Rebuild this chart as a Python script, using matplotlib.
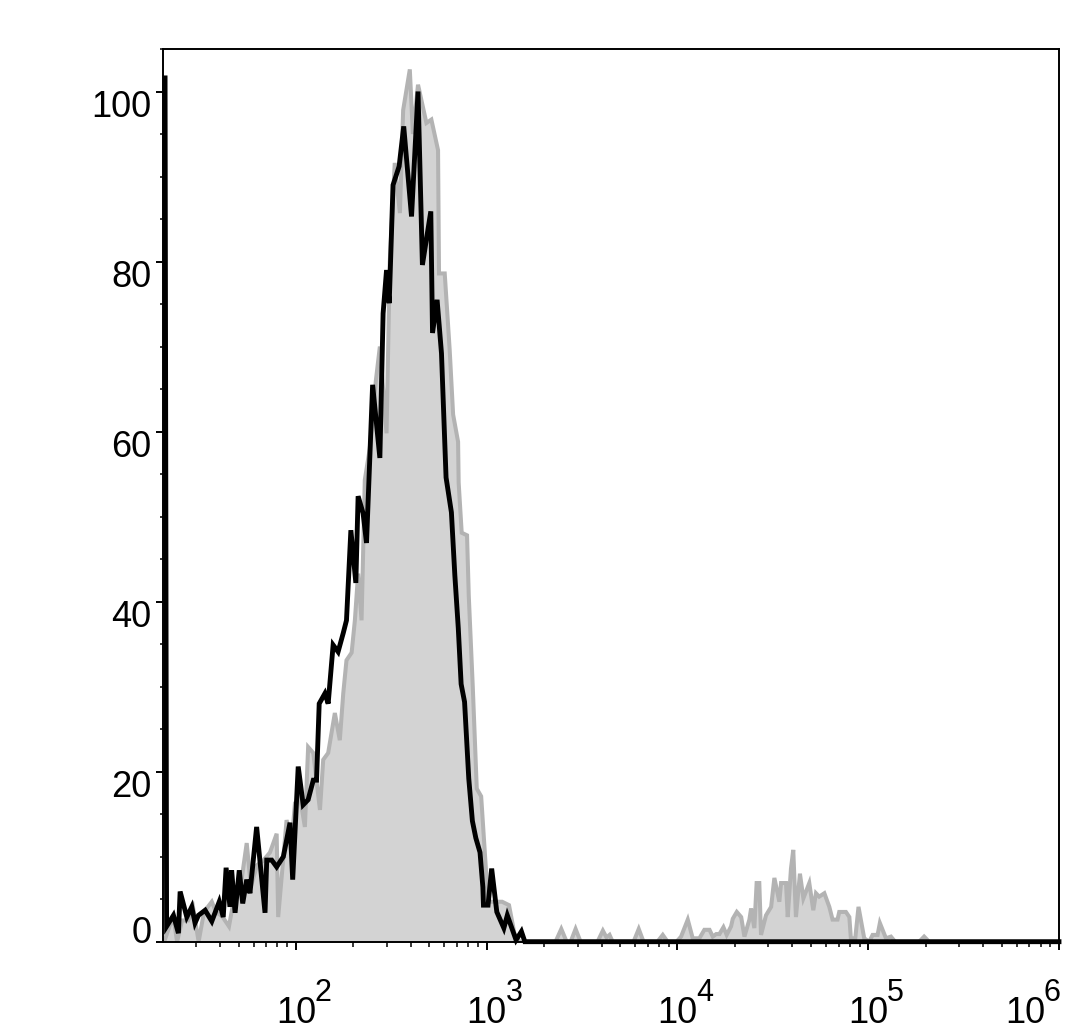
import numpy as np
import matplotlib
matplotlib.use("Agg")
import matplotlib.pyplot as plt
from matplotlib.ticker import LogLocator, MultipleLocator, NullFormatter

plt.rcParams['font.family'] = ['Liberation Sans', 'DejaVu Sans']

# stained sample (black outline), log10 of intensity and % of max
black_log = [1.314, 1.322, 1.358, 1.384, 1.393, 1.428, 1.454, 1.471, 1.489, 1.524,
             1.559, 1.598, 1.619, 1.634, 1.654, 1.663, 1.681, 1.703, 1.721, 1.742,
             1.759, 1.794, 1.838, 1.847, 1.873, 1.899, 1.934, 1.969, 1.983, 2.012,
             2.038, 2.064, 2.091, 2.108, 2.122, 2.152, 2.169, 2.195, 2.221, 2.248,
             2.265, 2.288, 2.314, 2.326, 2.352, 2.370, 2.402, 2.440, 2.457, 2.475,
             2.489, 2.509, 2.541, 2.565, 2.606, 2.640, 2.663, 2.707, 2.716, 2.740,
             2.763, 2.787, 2.815, 2.833, 2.851, 2.866, 2.884, 2.906, 2.925, 2.943,
             2.965, 2.980, 2.983, 3.007, 3.026, 3.053, 3.090, 3.108, 3.154, 3.182,
             3.200, 6.0]
black_pct = [101.6, 1.8, 3.1, 1.0, 5.9, 2.9, 4.1, 2.2, 3.1, 3.7,
             2.4, 4.7, 2.9, 8.7, 4.1, 8.4, 3.4, 8.4, 4.5, 7.3,
             5.7, 13.5, 3.4, 9.6, 9.6, 8.8, 10.0, 14.0, 7.3, 20.6,
             16.1, 16.7, 19.0, 19.0, 28.0, 29.2, 28.0, 34.9, 34.1, 36.3,
             37.8, 48.4, 42.2, 52.4, 50.4, 46.9, 65.5, 56.9, 73.9, 79.0,
             75.1, 89.0, 91.2, 95.9, 85.3, 100.0, 79.6, 85.9, 71.6, 75.5,
             69.2, 54.6, 50.5, 43.1, 36.9, 30.3, 28.2, 19.2, 14.2, 12.2,
             10.5, 6.4, 4.3, 4.3, 8.6, 3.5, 1.6, 3.1, 0.2, 1.2,
             0, 0]

# control (grey filled)
gray_log = [1.314, 1.340, 1.361, 1.377, 1.403, 1.435, 1.461, 1.490, 1.518, 1.559,
            1.581, 1.613, 1.649, 1.675, 1.707, 1.742, 1.764, 1.796, 1.827, 1.864,
            1.899, 1.907, 1.951, 1.979, 1.995, 2.021, 2.047, 2.064, 2.091, 2.126,
            2.143, 2.169, 2.204, 2.230, 2.248, 2.265, 2.292, 2.309, 2.326, 2.344,
            2.361, 2.387, 2.419, 2.440, 2.475, 2.492, 2.518, 2.545, 2.562, 2.597,
            2.613, 2.640, 2.684, 2.710, 2.745, 2.750, 2.780, 2.806, 2.824, 2.850,
            2.853, 2.869, 2.897, 2.906, 2.927, 2.948, 2.971, 3.007, 3.081, 3.117,
            3.145, 3.173, 3.361, 3.391, 3.419, 3.440, 3.466, 3.492, 3.581, 3.609,
            3.628, 3.644, 3.660, 3.770, 3.797, 3.822, 3.895, 3.923, 3.948, 3.995,
            4.019, 4.054, 4.080, 4.115, 4.141, 4.168, 4.185, 4.203, 4.220, 4.241,
            4.258, 4.281, 4.290, 4.311, 4.334, 4.351, 4.377, 4.386, 4.403, 4.415,
            4.429, 4.438, 4.464, 4.491, 4.508, 4.534, 4.543, 4.569, 4.578, 4.595,
            4.607, 4.621, 4.642, 4.660, 4.691, 4.712, 4.726, 4.743, 4.770, 4.796,
            4.813, 4.839, 4.848, 4.883, 4.901, 4.909, 4.932, 4.949, 4.979, 5.005,
            5.023, 5.049, 5.061, 5.093, 5.119, 5.141, 5.267, 5.293, 5.319, 6.0]
gray_pct = [0.3, 2.0, 2.5, 0.0, 2.5, 2.5, 4.0, 0.0, 3.5, 4.7,
            3.5, 3.0, 1.8, 5.0, 6.0, 11.6, 6.5, 9.0, 9.5, 10.5,
            12.7, 2.9, 14.3, 12.0, 16.3, 17.0, 13.5, 22.9, 22.2, 15.5,
            21.4, 22.2, 26.9, 23.7, 29.2, 33.1, 34.0, 37.8, 43.3, 37.8,
            54.3, 58.0, 66.0, 70.0, 59.8, 80.0, 91.6, 85.7, 97.8, 102.6,
            95.0, 100.8, 96.3, 96.7, 93.1, 78.6, 78.6, 69.6, 62.0, 58.8,
            54.0, 48.1, 47.8, 40.7, 30.0, 18.0, 17.1, 4.7, 4.7, 4.3,
            1.0, 0, 0, 1.5, 0, 0, 1.5, 0, 0, 1.3,
            0.5, 0.8, 0, 0, 1.5, 0, 0, 0.8, 0, 0,
            0.6, 2.6, 0.4, 0.4, 1.4, 1.4, 0.6, 0.9, 0.9, 1.7,
            0.8, 1.8, 2.7, 3.5, 2.9, 0.6, 2.6, 3.9, 1.6, 6.9,
            6.9, 0.8, 3.1, 4.1, 7.5, 4.7, 6.9, 6.9, 2.9, 8.6,
            10.8, 2.9, 8.0, 5.1, 6.9, 3.7, 5.7, 5.3, 5.7, 4.1,
            2.6, 2.6, 3.5, 3.5, 2.9, 0.4, 0.4, 4.1, 0.4, 0,
            0.8, 0.8, 2.2, 0.4, 0.6, 0, 0, 0.6, 0, 0]

y_ticks = [0, 20, 40, 60, 80, 100]
x_decades = [2, 3, 4, 5, 6]

px = 0.72  # points per pixel at dpi 100

fig = plt.figure(figsize=(10.84, 10.31), dpi=100)
ax = fig.add_axes([163 / 1084, 1 - 941.7 / 1031, 896 / 1084, (941.7 - 49) / 1031])

gx = 10 ** np.array(gray_log)
bx = 10 ** np.array(black_log)
ax.fill_between(gx, 0, gray_pct, facecolor='#d3d3d3', edgecolor='none', zorder=1)
ax.plot(gx, gray_pct, color='#b3b3b3', lw=2.9, solid_joinstyle='miter', zorder=2)
ax.plot(bx, black_pct, color='black', lw=3.5, solid_joinstyle='miter', zorder=3, clip_on=False)

ax.set_xscale('log')
ax.set_xlim(20.1, 1e6)
ax.set_ylim(0, 105)

ax.xaxis.set_major_locator(LogLocator(base=10, numticks=20))
ax.xaxis.set_minor_locator(LogLocator(base=10, subs=np.arange(2, 10), numticks=20))
ax.xaxis.set_major_formatter(NullFormatter())
ax.xaxis.set_minor_formatter(NullFormatter())
ax.yaxis.set_major_locator(MultipleLocator(20))
ax.yaxis.set_minor_locator(MultipleLocator(5))
ax.yaxis.set_major_formatter(NullFormatter())

ax.tick_params(axis='x', which='major', direction='out', length=6, width=1.4)
ax.tick_params(axis='x', which='minor', direction='out', length=3.6, width=1.1)
ax.tick_params(axis='y', which='major', direction='out', length=5, width=1.4)
ax.tick_params(axis='y', which='minor', direction='out', length=2.5, width=1.1)
for s in ax.spines.values():
    s.set_linewidth(1.4)

# y labels sit a bit below their ticks, except the 0
for v in y_ticks:
    dy = -1.6 if v == 0 else -25.6
    ax.annotate(str(v), xy=(0, v), xycoords=('axes fraction', 'data'),
                xytext=(-11.4 * px, dy * px), textcoords='offset points',
                ha='right', va='baseline', fontsize=26, annotation_clip=False)

for k in x_decades:
    shift = -34 if k == 6 else 0   # last label pulled inside the figure
    ax.annotate('10', xy=(10 ** k, 0), xycoords=('data', 'axes fraction'),
                xytext=(shift * px, -81 * px), textcoords='offset points',
                ha='center', va='baseline', fontsize=26, annotation_clip=False)
    ax.annotate(str(k), xy=(10 ** k, 0), xycoords=('data', 'axes fraction'),
                xytext=((19 + shift) * px, -59 * px), textcoords='offset points',
                ha='left', va='baseline', fontsize=22, annotation_clip=False)

fig.savefig('out.png', dpi=100)
